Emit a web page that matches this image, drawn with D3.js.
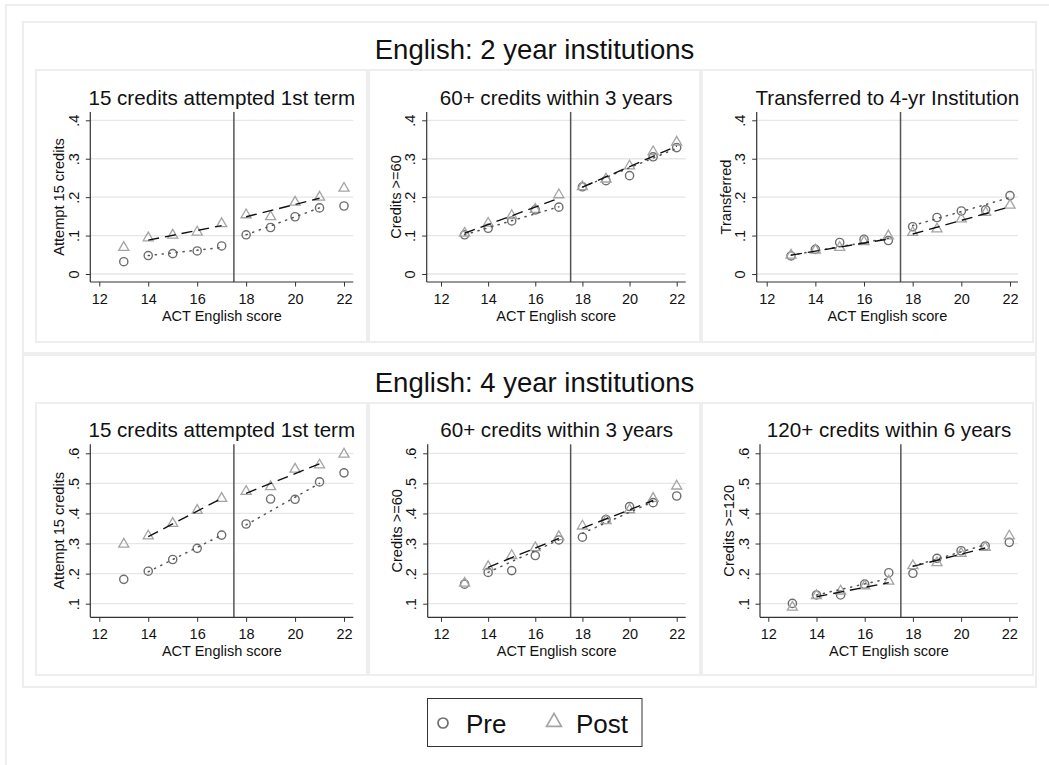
<!DOCTYPE html>
<html>
<head>
<meta charset="utf-8">
<script src="https://cdn.jsdelivr.net/npm/d3@7"></script>
<style>
  html, body { margin: 0; padding: 0; background: #fff; }
  svg { display: block; }
  text { font-family: "Liberation Sans", Arial, sans-serif; fill: #111; }
</style>
</head>
<body>
<svg id="chart" width="1049" height="765"></svg>
<script>
// ---- data ---------------------------------------------------------------
const scores = [13, 14, 15, 16, 17, 18, 19, 20, 21, 22];
const cutoff = 17.5;
const xTicks = [12, 14, 16, 18, 20, 22];
const yTicks2yr = [0, 0.1, 0.2, 0.3, 0.4];
const yTicks4yr = [0.1, 0.2, 0.3, 0.4, 0.5, 0.6];

const sectionTitles = ["English: 2 year institutions", "English: 4 year institutions"];
const panelTitles2yr = ["15 credits attempted 1st term", "60+ credits within 3 years", "Transferred to 4-yr Institution"];
const panelTitles4yr = ["15 credits attempted 1st term", "60+ credits within 3 years", "120+ credits within 6 years"];
const yTitles2yr = ["Attempt 15 credits", "Credits >=60", "Transferred"];
const yTitles4yr = ["Attempt 15 credits", "Credits >=60", "Credits >=120"];
const xTitle = "ACT English score";
const seriesNames = ["Pre", "Post"];

// 2 year institutions
const pre2yrAttempt  = [0.032, 0.048, 0.053, 0.060, 0.073, 0.102, 0.121, 0.149, 0.172, 0.177];
const post2yrAttempt = [0.069, 0.094, 0.101, 0.109, 0.131, 0.154, 0.149, 0.187, 0.200, 0.223];
const pre2yrCredits60  = [0.102, 0.119, 0.138, 0.167, 0.174, 0.227, 0.243, 0.256, 0.305, 0.329];
const post2yrCredits60 = [0.106, 0.132, 0.152, 0.168, 0.206, 0.227, 0.247, 0.281, 0.318, 0.343];
const pre2yrTransfer  = [0.047, 0.064, 0.082, 0.090, 0.087, 0.123, 0.147, 0.164, 0.167, 0.204];
const post2yrTransfer = [0.049, 0.062, 0.069, 0.084, 0.099, 0.108, 0.117, 0.143, 0.160, 0.179];

// 4 year institutions
const pre4yrAttempt  = [0.181, 0.208, 0.247, 0.284, 0.328, 0.365, 0.448, 0.447, 0.505, 0.535];
const post4yrAttempt = [0.298, 0.325, 0.367, 0.410, 0.450, 0.473, 0.489, 0.547, 0.561, 0.597];
const pre4yrCredits60  = [0.165, 0.204, 0.210, 0.260, 0.312, 0.321, 0.380, 0.423, 0.436, 0.458];
const post4yrCredits60 = [0.168, 0.223, 0.260, 0.286, 0.323, 0.358, 0.376, 0.412, 0.450, 0.491];
const pre4yrCredits120  = [0.101, 0.129, 0.129, 0.165, 0.203, 0.201, 0.251, 0.276, 0.292, 0.304];
const post4yrCredits120 = [0.088, 0.127, 0.142, 0.159, 0.175, 0.226, 0.236, 0.267, 0.287, 0.325];

// local linear fits on each side of the cutoff: [x0, y0, x1, y1]
const fitPre2yrAttempt  = [[14, 0.048, 17, 0.069], [18, 0.102, 21, 0.172]];
const fitPost2yrAttempt = [[14, 0.088, 17, 0.126], [18, 0.149, 21, 0.197]];
const fitPre2yrCredits60  = [[13, 0.102, 17, 0.175], [18, 0.226, 22, 0.327]];
const fitPost2yrCredits60 = [[13, 0.106, 17, 0.197], [18, 0.226, 22, 0.333]];
const fitPre2yrTransfer  = [[13, 0.049, 17, 0.093], [18, 0.126, 22, 0.199]];
const fitPost2yrTransfer = [[13, 0.049, 17, 0.091], [18, 0.104, 22, 0.175]];
const fitPre4yrAttempt  = [[14, 0.206, 17, 0.328], [18, 0.362, 21, 0.500]];
const fitPost4yrAttempt = [[14, 0.323, 17, 0.450], [18, 0.467, 21, 0.565]];
const fitPre4yrCredits60  = [[14, 0.204, 17, 0.312], [18, 0.334, 21, 0.439]];
const fitPost4yrCredits60 = [[14, 0.221, 17, 0.317], [18, 0.351, 21, 0.443]];
const fitPre4yrCredits120  = [[14, 0.129, 17, 0.184], [18, 0.225, 21, 0.296]];
const fitPost4yrCredits120 = [[14, 0.123, 17, 0.170], [18, 0.224, 21, 0.285]];

// ---- layout -------------------------------------------------------------
const W = 1049, H = 765;
const svg = d3.select("#chart");
const FONT_SECTION = 27.5, FONT_PANEL = 20.6, FONT_AXIS = 14.5, FONT_TICK = 14.5, FONT_YTITLE = 14.6, FONT_LEGEND = 26;
const BOX = "#eeeeee";

// rows: y geometry of plot regions
const rows = [
  { top: 112, axisY: 282, ticks: yTicks2yr, domain: [0, 0.4], range: [274, 120.3], sectionTop: 22, sectionBottom: 353, boxTop: 70, boxBottom: 342, titleY: 59,
    titles: panelTitles2yr, yTitles: yTitles2yr,
    pre: [pre2yrAttempt, pre2yrCredits60, pre2yrTransfer],
    post: [post2yrAttempt, post2yrCredits60, post2yrTransfer],
    fitPre: [fitPre2yrAttempt, fitPre2yrCredits60, fitPre2yrTransfer],
    fitPost: [fitPost2yrAttempt, fitPost2yrCredits60, fitPost2yrTransfer] },
  { top: 444.3, axisY: 617.3, ticks: yTicks4yr, domain: [0.1, 0.6], range: [603.7, 453.3], sectionTop: 355, sectionBottom: 687, boxTop: 403, boxBottom: 675, titleY: 392,
    titles: panelTitles4yr, yTitles: yTitles4yr,
    pre: [pre4yrAttempt, pre4yrCredits60, pre4yrCredits120],
    post: [post4yrAttempt, post4yrCredits60, post4yrCredits120],
    fitPre: [fitPre4yrAttempt, fitPre4yrCredits60, fitPre4yrCredits120],
    fitPost: [fitPost4yrAttempt, fitPost4yrCredits60, fitPost4yrCredits120] }
];
// columns: x geometry of plot regions (left axis, right edge, pixel of 12 and 22)
const cols = [
  [{ left: 90.3, right: 353.3, x12: 99.3, x22: 344 }, { left: 90.3, right: 353.3, x12: 99.3, x22: 344 }],
  [{ left: 426.7, right: 685.7, x12: 441, x22: 676.7 }, { left: 427.7, right: 685.7, x12: 441, x22: 676.7 }],
  [{ left: 756.7, right: 1018, x12: 766.7, x22: 1010 }, { left: 760, right: 1018, x12: 768.3, x22: 1009.3 }]
];
const boxCols = [[36, 367], [369, 700], [702, 1033]];

const fmt = d => d === 0 ? "0" : d3.format(".1f")(d).replace(/^0/, "");

// outer frame and section frames
svg.append("rect").attr("x", 6).attr("y", 5).attr("width", W + 20).attr("height", H + 20)
  .attr("fill", "none").attr("stroke", BOX).attr("stroke-width", 2);

rows.forEach((row, ri) => {
  svg.append("rect").attr("x", 23).attr("y", row.sectionTop)
    .attr("width", 1036 - 23).attr("height", row.sectionBottom - row.sectionTop)
    .attr("fill", "none").attr("stroke", BOX).attr("stroke-width", 2);

  svg.append("text").attr("x", 534.5).attr("y", row.titleY)
    .attr("text-anchor", "middle").attr("font-size", FONT_SECTION)
    .text(sectionTitles[ri]);

  const y = d3.scaleLinear().domain(row.domain).range(row.range);

  cols.forEach((colPair, ci) => {
    const c = colPair[ri];
    const [bx0, bx1] = boxCols[ci];
    svg.append("rect").attr("x", bx0).attr("y", row.boxTop)
      .attr("width", bx1 - bx0).attr("height", row.boxBottom - row.boxTop)
      .attr("fill", "none").attr("stroke", BOX).attr("stroke-width", 2);

    const x = d3.scaleLinear().domain([12, 22]).range([c.x12, c.x22]);
    const g = svg.append("g");
    const cx = (c.left + c.right) / 2;

    // grid lines
    g.selectAll(".grid").data(row.ticks).join("line")
      .attr("x1", c.left).attr("x2", c.right)
      .attr("y1", d => y(d)).attr("y2", d => y(d))
      .attr("stroke", "#e6e6e6").attr("stroke-width", 1.3);

    // cutoff line
    g.append("line").attr("x1", x(cutoff)).attr("x2", x(cutoff))
      .attr("y1", row.top).attr("y2", row.axisY)
      .attr("stroke", "#555").attr("stroke-width", 1.5);

    // markers: Pre circles, Post triangles
    const pre = row.pre[ci], post = row.post[ci];
    g.selectAll(".pre").data(scores).join("circle")
      .attr("cx", d => x(d)).attr("cy", (d, i) => y(pre[i])).attr("r", 4.1)
      .attr("fill", "none").attr("stroke", "#6e6e6e").attr("stroke-width", 1.4);
    const tri = d3.symbol(d3.symbolTriangle, 44);
    g.selectAll(".post").data(scores).join("path")
      .attr("d", tri)
      .attr("transform", (d, i) => `translate(${x(d)},${y(post[i])})`)
      .attr("fill", "none").attr("stroke", "#a4a4a4").attr("stroke-width", 1.3);

    // fitted lines
    row.fitPre[ci].forEach(s => {
      g.append("line").attr("x1", x(s[0])).attr("y1", y(s[1])).attr("x2", x(s[2])).attr("y2", y(s[3]))
        .attr("stroke", "#555").attr("stroke-width", 1.5)
        .attr("stroke-dasharray", "1.2,5.8").attr("stroke-linecap", "round");
    });
    row.fitPost[ci].forEach(s => {
      g.append("line").attr("x1", x(s[0])).attr("y1", y(s[1])).attr("x2", x(s[2])).attr("y2", y(s[3]))
        .attr("stroke", "#111").attr("stroke-width", 1.4)
        .attr("stroke-dasharray", "11,6");
    });

    // axes
    const xa = g.append("g").attr("transform", `translate(0,${row.axisY})`)
      .call(d3.axisBottom(x).tickValues(xTicks).tickSize(4.5).tickSizeOuter(0).tickPadding(7).tickFormat(d3.format("d")));
    xa.select(".domain").remove();
    xa.selectAll("line").attr("stroke", "#333");
    xa.selectAll("text").attr("font-size", FONT_TICK).attr("fill", "#111")
      .attr("font-family", "Liberation Sans, Arial, sans-serif");
    g.append("line").attr("x1", c.left).attr("x2", c.right).attr("y1", row.axisY).attr("y2", row.axisY)
      .attr("stroke", "#333").attr("stroke-width", 1.2);

    const ya = g.append("g").attr("transform", `translate(${c.left},0)`)
      .call(d3.axisLeft(y).tickValues(row.ticks).tickSize(4.5).tickSizeOuter(0).tickFormat(fmt));
    ya.select(".domain").remove();
    ya.selectAll("line").attr("stroke", "#333");
    ya.selectAll("text").attr("font-size", FONT_TICK).attr("fill", "#111")
      .attr("font-family", "Liberation Sans, Arial, sans-serif")
      .attr("x", null).attr("dy", null).attr("text-anchor", "middle")
      .attr("transform", "translate(-11.5,0) rotate(-90)");
    g.append("line").attr("x1", c.left).attr("x2", c.left).attr("y1", row.top).attr("y2", row.axisY)
      .attr("stroke", "#333").attr("stroke-width", 1.2);

    // titles
    g.append("text").attr("x", cx).attr("y", row.top - 7)
      .attr("text-anchor", "middle").attr("font-size", FONT_PANEL).text(row.titles[ci]);
    g.append("text").attr("x", cx).attr("y", row.axisY + 39)
      .attr("text-anchor", "middle").attr("font-size", FONT_AXIS).text(xTitle);
    g.append("text")
      .attr("transform", `translate(${c.left - 26},${(row.top + row.axisY) / 2}) rotate(-90)`)
      .attr("text-anchor", "middle").attr("font-size", FONT_YTITLE).text(row.yTitles[ci]);
  });
});

// legend
const lg = svg.append("g");
lg.append("rect").attr("x", 427.5).attr("y", 698.5).attr("width", 214.5).attr("height", 48)
  .attr("fill", "#fff").attr("stroke", "#333").attr("stroke-width", 1);
lg.append("circle").attr("cx", 443).attr("cy", 723).attr("r", 5)
  .attr("fill", "none").attr("stroke", "#6e6e6e").attr("stroke-width", 1.7);
lg.append("text").attr("x", 466).attr("y", 733).attr("font-size", FONT_LEGEND).text(seriesNames[0]);
lg.append("path").attr("d", d3.symbol(d3.symbolTriangle, 95)())
  .attr("transform", "translate(554,722)")
  .attr("fill", "none").attr("stroke", "#a4a4a4").attr("stroke-width", 1.7);
lg.append("text").attr("x", 576).attr("y", 733).attr("font-size", FONT_LEGEND).text(seriesNames[1]);
</script>
</body>
</html>
